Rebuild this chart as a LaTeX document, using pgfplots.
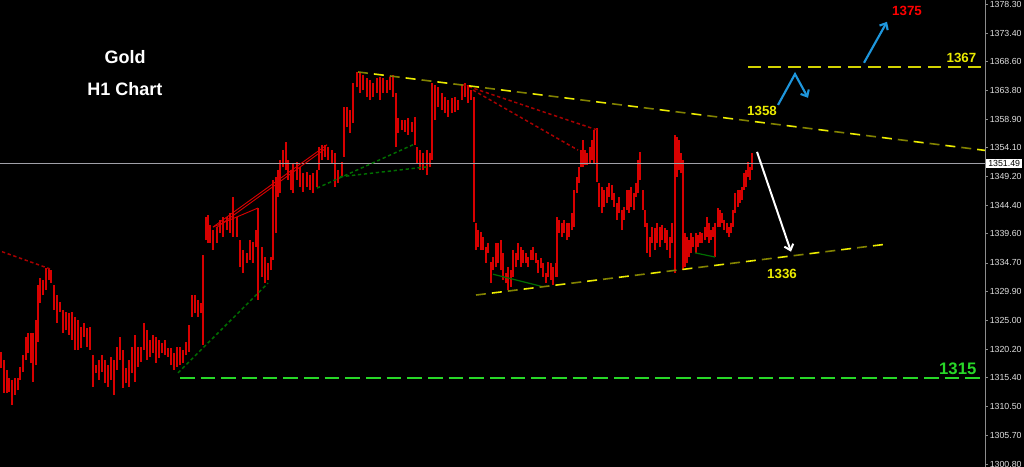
\documentclass[border=0pt]{standalone}
\usepackage{pgfplots}
\usepackage{pgfplotstable}
\pgfplotsset{compat=1.18}
\usepackage{fontspec}
\setmainfont{Liberation Sans}
\usetikzlibrary{arrows.meta}
\definecolor{barred}{RGB}{215,0,0}
\definecolor{axisgrey}{RGB}{140,140,140}
\definecolor{pricegrey}{RGB}{160,160,168}
\definecolor{ticktext}{RGB}{225,225,225}
\definecolor{dred}{RGB}{170,0,0}
\definecolor{dgreen}{RGB}{0,110,0}
\definecolor{lgreen}{RGB}{40,215,40}
\definecolor{yel}{RGB}{235,235,0}
\definecolor{olive}{RGB}{130,130,0}
\definecolor{arrblue}{RGB}{30,150,220}

\pgfplotstableread{
x h l
1 1319.7 1317.0
4 1318.4 1312.8
7 1316.7 1312.8
9 1315.4 1313.0
12 1315.0 1310.8
15 1315.4 1312.5
18 1315.4 1313.3
20 1317.2 1315.0
23 1319.2 1316.4
26 1322.3 1318.4
28 1322.9 1319.6
31 1322.9 1317.9
33 1322.9 1314.7
36 1325.1 1317.5
38 1331.0 1321.4
40 1332.2 1328.0
43 1331.9 1329.3
46 1333.9 1330.2
49 1333.9 1331.9
51 1333.5 1331.4
54 1331.0 1326.8
57 1329.3 1324.6
60 1328.2 1326.5
63 1326.8 1322.9
66 1326.5 1323.4
69 1326.3 1322.6
72 1326.5 1321.8
75 1325.6 1320.1
78 1325.1 1320.1
81 1323.9 1320.4
84 1324.6 1322.3
87 1323.8 1320.6
90 1323.9 1320.1
93 1319.2 1313.9
96 1317.5 1316.2
99 1318.4 1315.0
102 1319.2 1316.4
105 1318.4 1314.5
108 1317.5 1313.9
111 1318.9 1315.0
114 1318.4 1312.5
117 1320.6 1316.7
120 1322.3 1318.4
123 1320.1 1313.7
126 1317.0 1314.5
129 1318.4 1313.9
132 1320.6 1316.2
135 1322.6 1314.7
138 1320.6 1317.2
141 1320.6 1318.1
144 1324.6 1320.1
147 1323.4 1318.4
150 1321.8 1318.9
153 1322.6 1319.6
156 1322.3 1317.9
159 1321.8 1318.7
162 1321.3 1319.6
165 1321.8 1319.2
168 1320.4 1318.9
171 1320.4 1317.5
174 1319.6 1316.7
177 1320.6 1317.2
180 1320.6 1317.5
183 1320.1 1317.9
186 1321.4 1319.2
189 1324.3 1319.7
192 1329.3 1325.6
195 1329.3 1326.3
198 1328.5 1325.6
201 1328.0 1326.3
203 1336.1 1320.9
206 1342.5 1338.6
208 1342.8 1338.1
210 1341.1 1338.1
213 1340.3 1336.9
217 1340.8 1338.1
220 1342.0 1339.8
223 1342.5 1339.1
227 1342.5 1340.3
230 1343.1 1339.8
233 1345.8 1339.1
237 1342.5 1339.1
240 1338.6 1334.0
243 1336.9 1333.0
247 1336.4 1334.7
250 1338.6 1335.2
253 1338.3 1334.7
256 1340.3 1337.4
258 1344.0 1328.5
262 1337.4 1332.4
265 1335.7 1331.4
268 1334.7 1331.9
271 1335.7 1333.5
273 1348.7 1335.2
276 1349.2 1339.8
278 1350.4 1345.8
280 1352.1 1346.5
283 1353.7 1350.9
286 1355.1 1350.4
288 1352.1 1348.7
291 1350.4 1347.0
293 1351.6 1346.5
297 1351.7 1348.7
300 1350.9 1347.5
303 1349.9 1346.7
307 1350.0 1347.5
310 1349.5 1347.0
313 1349.9 1346.5
317 1350.4 1347.5
319 1354.2 1350.4
322 1354.6 1352.1
325 1354.6 1352.6
328 1354.2 1352.1
332 1353.7 1351.6
335 1353.2 1347.5
338 1350.4 1348.2
342 1351.7 1349.2
344 1361.0 1352.6
347 1361.0 1357.6
350 1360.5 1356.6
353 1365.0 1358.3
357 1366.9 1364.4
360 1366.7 1363.3
363 1366.4 1363.8
367 1365.9 1362.7
370 1365.5 1362.2
373 1365.0 1362.7
377 1365.9 1363.3
380 1366.0 1362.2
383 1365.9 1363.3
387 1365.5 1363.3
390 1366.0 1363.8
393 1366.4 1362.7
396 1363.3 1354.2
398 1359.1 1356.6
402 1358.8 1357.1
405 1358.8 1356.8
408 1359.1 1356.3
412 1358.5 1356.8
415 1359.3 1354.6
417 1354.2 1351.6
420 1353.7 1350.4
423 1353.2 1350.4
427 1353.7 1349.5
430 1353.2 1350.9
432 1365.0 1352.1
435 1364.7 1358.8
438 1364.4 1361.0
442 1363.3 1360.5
445 1362.7 1360.0
448 1362.2 1359.3
452 1362.5 1360.0
455 1362.7 1360.1
458 1362.2 1360.5
462 1364.7 1362.2
465 1365.0 1362.7
468 1364.7 1361.7
471 1363.8 1362.2
474 1362.7 1341.6
476 1341.5 1336.9
478 1340.3 1337.4
481 1339.9 1336.9
483 1339.1 1336.9
486 1337.4 1334.7
488 1338.1 1336.4
491 1334.9 1331.4
493 1335.7 1333.5
496 1338.1 1334.0
498 1338.1 1334.7
501 1338.6 1333.5
503 1336.4 1331.9
506 1333.0 1331.4
508 1334.0 1330.2
511 1333.5 1330.7
513 1336.9 1332.4
516 1336.4 1334.0
518 1338.1 1335.2
521 1337.4 1334.0
523 1336.9 1334.7
526 1336.4 1334.7
528 1335.7 1334.0
531 1336.9 1335.2
533 1337.4 1335.2
536 1336.4 1334.7
538 1335.2 1333.0
541 1335.6 1333.9
543 1334.7 1332.4
546 1333.0 1331.4
548 1334.9 1332.4
551 1334.7 1331.9
553 1334.0 1331.0
556 1334.7 1332.4
557 1342.5 1332.4
559 1342.0 1339.8
562 1341.5 1339.1
564 1342.0 1339.8
567 1341.5 1338.6
569 1341.5 1339.1
572 1343.1 1340.3
574 1347.0 1340.8
577 1349.2 1346.5
579 1350.9 1348.2
581 1353.7 1350.9
583 1355.4 1350.9
585 1353.7 1351.2
587 1353.2 1351.2
590 1354.2 1351.6
592 1355.4 1352.1
594 1357.1 1351.6
597 1357.4 1348.4
599 1348.2 1344.2
602 1347.5 1343.1
604 1347.0 1344.2
607 1347.5 1344.8
609 1348.2 1345.8
612 1347.9 1345.3
614 1346.5 1344.2
617 1344.8 1342.0
619 1345.8 1343.1
622 1343.6 1340.3
624 1344.2 1342.0
627 1347.0 1343.6
629 1347.0 1343.1
631 1347.5 1344.2
634 1346.5 1343.6
636 1348.2 1345.8
638 1352.1 1346.5
640 1353.4 1348.7
643 1347.0 1343.6
645 1343.6 1340.8
647 1341.5 1336.4
650 1339.1 1335.7
652 1340.8 1338.1
655 1340.6 1336.9
657 1341.5 1338.1
660 1340.8 1337.4
662 1341.1 1338.6
665 1340.6 1338.1
667 1340.3 1336.9
670 1339.1 1335.6
672 1341.5 1338.1
675 1356.3 1333.0
677 1355.9 1349.2
679 1355.4 1350.4
681 1353.2 1349.9
683 1352.1 1333.5
685 1339.8 1334.0
687 1339.1 1334.7
689 1338.6 1335.7
691 1339.8 1336.4
693 1339.1 1337.4
696 1339.8 1336.4
698 1339.4 1337.4
700 1339.9 1338.1
702 1339.8 1338.1
705 1340.8 1338.6
707 1342.5 1339.1
709 1341.5 1338.1
711 1340.3 1338.6
713 1340.8 1339.1
715 1341.5 1335.7
718 1344.0 1340.8
720 1343.6 1340.8
722 1343.1 1341.5
724 1342.0 1340.3
727 1341.5 1339.8
729 1340.8 1339.1
731 1341.5 1339.8
733 1343.6 1340.8
735 1346.5 1343.1
738 1347.0 1344.2
740 1347.0 1344.8
742 1347.5 1345.3
744 1349.9 1347.0
746 1350.4 1347.5
748 1351.7 1349.2
750 1350.9 1348.7
752 1353.2 1350.4
}\bars

\newcommand{\tickfont}{\fontsize{6.6}{7}\selectfont}

\begin{document}
\begin{tikzpicture}
\fill[black] (0,0) rectangle (768pt,350.25pt);
\begin{axis}[
  at={(0pt,0pt)}, anchor=south west,
  scale only axis, width=738.75pt, height=350.25pt,
  xmin=0, xmax=985, ymin=1300.35, ymax=1378.97,
  axis x line=none, axis y line*=right,
  axis line style={draw=axisgrey, line width=0.75pt},
  ytick={1300.8,1305.7,1310.5,1315.4,1320.2,1325.0,1329.9,1334.7,1339.6,1344.4,1349.2,1354.1,1358.9,1363.8,1368.6,1373.4,1378.3},
  yticklabels={1300.80,1305.70,1310.50,1315.40,1320.20,1325.00,1329.90,1334.70,1339.60,1344.40,1349.20,1354.10,1358.90,1363.80,1368.60,1373.40,1378.30},
  tick align=outside, major tick length=2.2pt,
  tick style={axisgrey, line width=0.6pt},
  yticklabel style={font=\tickfont, text=ticktext, inner xsep=1.2pt},
  clip mode=individual,
]
% price bars (high-low) drawn as vertical quiver segments from low to high
\addplot[draw=barred, line width=1.7pt, mark=none,
  quiver={u=0, v={\thisrow{h}-\thisrow{l}}}]
  table[x=x, y=l] {\bars};

% current price line
\addplot[pricegrey, line width=0.75pt] coordinates {(0,1351.49) (985,1351.49)};

% dark red dotted lines
\addplot[dred, line width=1.1pt, dash pattern=on 2.5pt off 2pt] coordinates {(2,1336.6) (50,1333.7)};
\addplot[dred, line width=1.1pt, dash pattern=on 2.5pt off 2pt] coordinates {(463,1364.7) (597,1357.1)};
\addplot[dred, line width=1.1pt, dash pattern=on 2.5pt off 2pt] coordinates {(473,1363.8) (578,1353.7)};

% dark green dotted lines
\addplot[dgreen, line width=1.1pt, dash pattern=on 2.5pt off 2pt] coordinates {(178,1316.2) (268,1331.3)};
\addplot[dgreen, line width=1.1pt, dash pattern=on 2.5pt off 2pt] coordinates {(317,1347.3) (413,1354.6)};
\addplot[dgreen, line width=1.1pt, dash pattern=on 2.5pt off 2pt] coordinates {(340,1349.2) (428,1350.9)};

% red thin trend lines
\addplot[barred, line width=0.7pt] coordinates {(213,1340.75) (258,1343.95)};
\addplot[barred, line width=0.7pt] coordinates {(213,1340.75) (327,1354.6)};
\addplot[barred, line width=0.7pt] coordinates {(216,1340.6) (325,1353.9)};

% green solid short lines
\addplot[dgreen, line width=0.9pt] coordinates {(493,1332.8) (543,1330.7)};
\addplot[dgreen, line width=0.9pt] coordinates {(695,1336.4) (715,1335.7)};

% yellow channel lines
\addplot[olive, line width=1.2pt, dash pattern=on 7.5pt off 16.5pt] coordinates {(358,1366.85) (985,1353.65)};
\addplot[yel, line width=1.2pt, dash pattern=on 7.5pt off 16.5pt, dash phase=12pt] coordinates {(358,1366.85) (985,1353.65)};
\addplot[olive, line width=1.2pt, dash pattern=on 7.5pt off 16.5pt] coordinates {(476,1329.3) (888,1337.9)};
\addplot[yel, line width=1.2pt, dash pattern=on 7.5pt off 16.5pt, dash phase=12pt] coordinates {(476,1329.3) (888,1337.9)};

% horizontal levels
\addplot[yel!90!black, line width=1pt, dash pattern=on 10pt off 5pt] coordinates {(748,1367.7) (985,1367.7)};
\addplot[lgreen, line width=1.4pt, dash pattern=on 11pt off 4.5pt] coordinates {(180,1315.4) (985,1315.4)};

% arrows
\addplot[arrblue, line width=1.6pt, -{Straight Barb[length=4pt,width=7pt]}] coordinates {(778,1361.3) (795,1366.5) (808,1362.5)};
\addplot[arrblue, line width=1.6pt, -{Straight Barb[length=4pt,width=7pt]}] coordinates {(864,1368.4) (887,1375.3)};
\addplot[white, line width=1.5pt, -{Straight Barb[length=4pt,width=7pt]}] coordinates {(757,1353.4) (791,1336.6)};

% texts
\node[text=white, font=\fontsize{13.5}{15}\selectfont\bfseries] at (axis cs:125,1369.4) {Gold};
\node[text=white, font=\fontsize{13.5}{15}\selectfont\bfseries] at (axis cs:125,1364.0) {H1 Chart};
\node[text=red, font=\fontsize{10}{11}\selectfont\bfseries] at (axis cs:907,1377.1) {1375};
\node[text=yel, font=\fontsize{10}{11}\selectfont\bfseries, anchor=east] at (axis cs:981,1369.2) {1367};
\node[text=yel, font=\fontsize{10}{11}\selectfont\bfseries] at (axis cs:762,1360.3) {1358};
\node[text=yel, font=\fontsize{10}{11}\selectfont\bfseries] at (axis cs:782,1332.8) {1336};
\node[text=lgreen, font=\fontsize{12.5}{13}\selectfont\bfseries, anchor=east] at (axis cs:981,1316.9) {1315};

% current price box
\node[fill=white, text=black, font=\tickfont, inner xsep=1.5pt, inner ysep=1.2pt, anchor=west] at (axis cs:986,1351.49) {1351.49};
\end{axis}
\pgfresetboundingbox
\path (0,0) rectangle (768pt,350.25pt);
\end{tikzpicture}
\end{document}
